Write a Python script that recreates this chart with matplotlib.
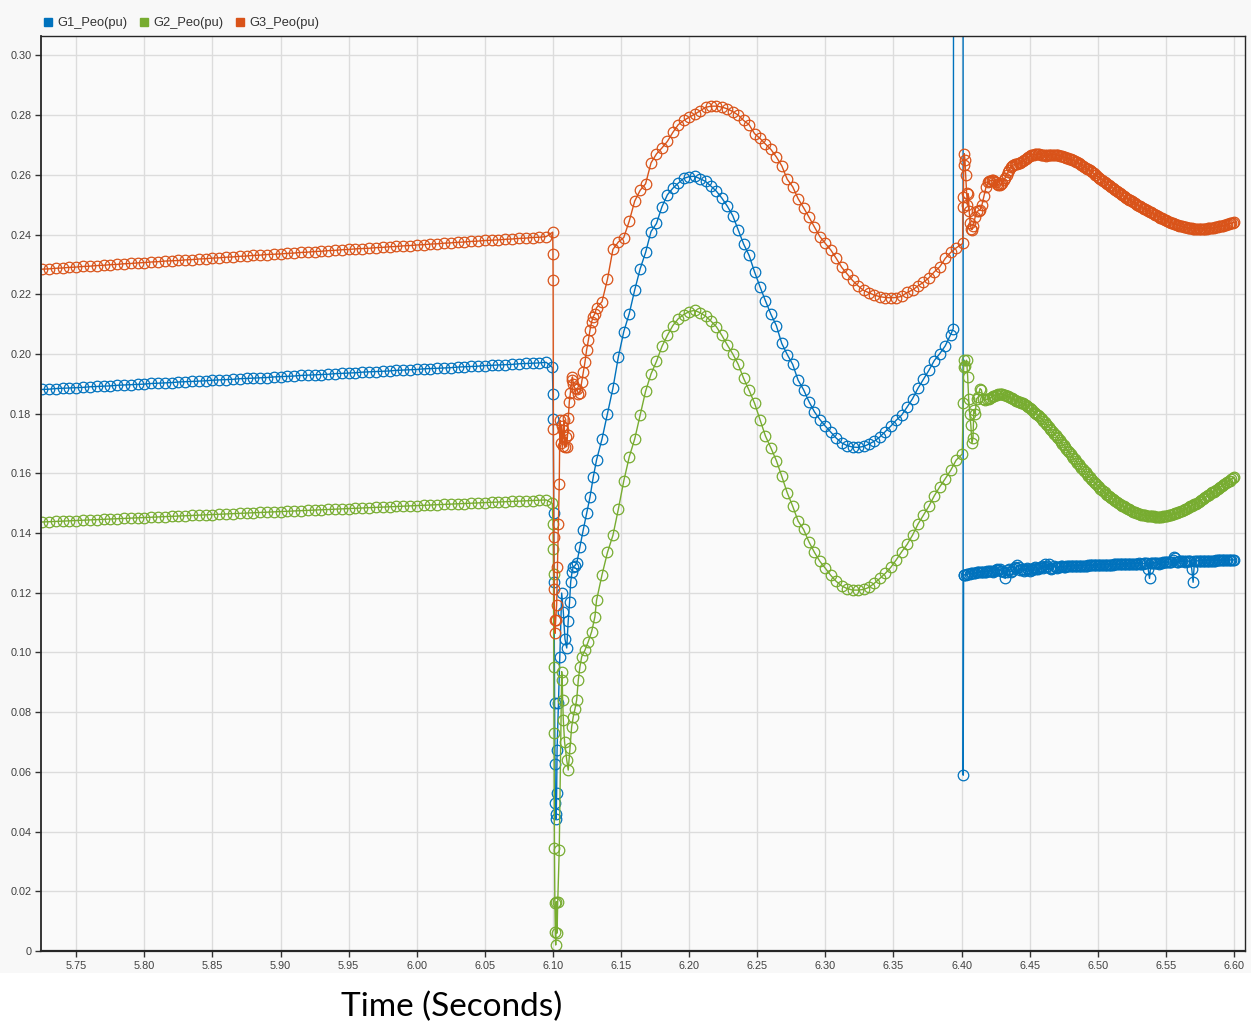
import numpy as np
import matplotlib
matplotlib.use("Agg")
import matplotlib.pyplot as plt
from matplotlib.lines import Line2D
from matplotlib.patches import Rectangle
from matplotlib.ticker import FuncFormatter

# ---------------- data (values in milli-pu) ----------------
series_names = ["G1_Peo(pu)", "G2_Peo(pu)", "G3_Peo(pu)"]

# pre-fault, t = 5.725 + 0.005*k
pre_t0, pre_dt = 5.725, 0.005
G1_pre = [188.1,188.2,188.4,188.5,188.6,188.7,188.8,189.0,189.1,189.2,
          189.3,189.5,189.6,189.7,189.8,189.9,190.1,190.2,190.3,190.4,
          190.6,190.7,190.8,190.9,191.0,191.2,191.3,191.4,191.5,191.7,
          191.8,191.9,192.0,192.1,192.3,192.4,192.5,192.6,192.8,192.9,
          193.0,193.1,193.2,193.4,193.5,193.6,193.7,193.9,194.0,194.1,
          194.2,194.3,194.5,194.6,194.7,194.8,195.0,195.1,195.2,195.3,
          195.4,195.6,195.7,195.8,195.9,196.1,196.2,196.3,196.4,196.5,
          196.7,196.8,196.9,197.0,197.2]
G2_pre = [143.7,143.8,143.9,144.0,144.1,144.2,144.3,144.4,144.5,144.6,
          144.7,144.8,144.9,145.0,145.1,145.2,145.3,145.4,145.5,145.6,
          145.7,145.8,145.9,146.0,146.1,146.2,146.3,146.4,146.5,146.6,
          146.7,146.8,146.9,147.0,147.1,147.2,147.3,147.4,147.5,147.6,
          147.7,147.8,147.9,148.0,148.1,148.2,148.3,148.4,148.5,148.6,
          148.7,148.8,148.9,149.0,149.1,149.2,149.3,149.4,149.5,149.6,
          149.7,149.8,149.9,150.0,150.1,150.2,150.3,150.4,150.5,150.6,
          150.7,150.8,150.9,151.0,151.1]
G3_pre = [228.4,228.5,228.7,228.8,229.0,229.1,229.3,229.4,229.6,229.7,
          229.9,230.0,230.2,230.3,230.5,230.6,230.8,230.9,231.1,231.2,
          231.3,231.5,231.6,231.8,231.9,232.1,232.2,232.4,232.5,232.7,
          232.8,233.0,233.1,233.3,233.4,233.5,233.7,233.8,234.0,234.1,
          234.3,234.4,234.6,234.7,234.9,235.0,235.2,235.3,235.4,235.6,
          235.7,235.9,236.0,236.2,236.3,236.5,236.6,236.8,236.9,237.1,
          237.2,237.4,237.5,237.7,237.8,238.0,238.1,238.2,238.4,238.5,
          238.7,238.8,239.0,239.1,239.3]

# fault transient (explicit times)
G1_fault_t = [6.0995,6.1000,6.1002,6.1005,6.1008,6.1012,6.1015,6.1018,6.1021,6.1024,
              6.1027,6.1030,6.1040,6.1050,6.1064,6.1076,6.1088,6.1101,6.1112,6.1122,
              6.1130,6.1140,6.1149,6.1160,6.1175,6.1198,6.1222,6.1247,6.1272,6.1296]
G1_fault_v = [195.5,186.7,178.1,146.7,123.6,83.0,62.6,49.7,44.2,46.0,
              52.9,67.3,83.0,98.6,119.9,113.6,104.5,101.5,110.6,117.0,
              123.6,127.0,128.7,129.0,130.0,135.4,141.0,146.6,152.1,158.8]
G2_fault_t = [6.0995,6.1000,6.1002,6.1004,6.1006,6.1008,6.1011,6.1014,6.1017,6.1020,
              6.1025,6.1030,6.1035,6.1046,6.1064,6.1068,6.1071,6.1076,6.1085,6.1101,
              6.1112,6.1125,6.1137,6.1149,6.1162,6.1174,6.1186,6.1198,6.1211,6.1235,
              6.1259,6.1284,6.1308]
G2_fault_v = [150.0,143.2,134.8,126.2,95.2,72.9,34.4,16.0,6.5,2.0,
              16.5,6.0,16.5,33.8,93.6,90.8,84.1,77.4,70.1,64.0,
              60.6,67.9,75.1,78.5,81.2,84.1,90.8,95.2,98.6,100.8,
              103.6,107.0,112.0]
G3_fault_t = [6.0998,6.1000,6.1001,6.1003,6.1006,6.1009,6.1012,6.1015,6.1020,6.1027,
              6.1033,6.1039,6.1046,6.1051,6.1058,6.1064,6.1070,6.1076,6.1082,6.1088,
              6.1095,6.1101,6.1107,6.1112,6.1120,6.1128,6.1137,6.1143,6.1150,6.1160,
              6.1174,6.1186,6.1198,6.1211,6.1222,6.1235,6.1247,6.1260,6.1272,6.1284,
              6.1296,6.1308]
G3_fault_v = [240.8,233.5,224.9,175.0,138.7,121.4,110.8,106.4,110.8,115.9,
              128.7,143.2,156.4,177.8,170.0,176.0,169.0,174.5,177.8,168.9,
              172.2,168.9,172.8,178.4,184.0,187.0,191.2,192.3,190.0,188.5,
              188.4,186.7,187.0,190.7,194.0,197.3,201.3,204.6,208.0,210.8,
              212.5,213.5]

# electromechanical swing, t = 6.132 + 0.004*k
sw_t0, sw_dt = 6.132, 0.004
G1_swing = [164.5,171.5,180.0,188.5,199.0,207.5,213.5,221.4,228.5,234.0,
            241.0,243.7,249.3,253.3,255.5,257.2,258.8,259.4,259.5,258.7,
            257.8,256.2,254.5,252.2,249.5,246.3,241.5,236.8,233.0,227.5,
            222.5,217.8,213.3,209.5,203.5,199.8,196.5,191.2,188.0,184.0,
            180.6,178.0,175.8,173.8,171.8,170.2,169.3,168.8,168.7,169.0,
            169.8,170.8,172.2,174.0,175.8,177.8,179.5,182.2,185.0,188.5,
            191.5,194.5,197.8,200.1,202.7,206.5]
G2_swing = [117.5,126.0,133.5,139.2,148.0,157.5,165.5,171.5,179.5,187.5,
            193.3,197.5,202.5,206.2,209.5,211.8,213.2,214.2,214.6,213.8,
            212.7,211.0,209.1,206.2,203.0,200.0,196.5,191.8,187.8,183.5,
            178.0,172.5,168.5,164.3,159.0,153.5,149.0,144.0,141.2,137.0,
            133.5,130.5,128.2,125.8,123.8,122.3,121.4,120.9,120.9,121.1,
            121.8,123.2,124.8,126.5,128.5,131.0,133.7,136.2,139.3,143.0,
            146.0,149.0,152.5,155.5,158.2,161.0]
G3_swing = [215.5,217.5,225.0,235.0,237.5,239.0,244.5,251.2,254.8,257.0,
            264.0,267.0,269.0,271.2,274.2,276.8,278.2,279.3,280.3,281.4,
            282.6,283.0,283.0,282.7,282.1,281.2,280.0,278.2,276.8,273.8,
            272.2,270.3,268.5,266.0,263.0,258.5,256.0,252.0,249.0,245.8,
            242.5,239.3,237.0,234.8,232.0,229.0,226.8,224.6,222.8,221.3,
            220.5,219.7,219.2,218.9,218.8,218.9,219.3,220.6,221.4,222.8,
            224.0,225.5,227.5,229.2,232.0,234.0]

# second event around 6.40 (explicit times); values above the axis run off the top
G1_event_t = [6.3939,6.3951,6.4010,6.4012,6.4015]
G1_event_v = [208.5,900.0,900.0,58.9,125.9]
G2_event_t = [6.3960,6.4005,6.4012,6.4015,6.4020,6.4028,6.4037,6.4045,6.4052,6.4060,
              6.4068,6.4076,6.4084,6.4090,6.4100,6.4110,6.4123,6.4135,6.4145,6.4160,
              6.4172,6.4185]
G2_event_v = [164.4,166.5,183.4,195.7,197.9,196.0,197.9,192.3,185.0,180.0,
              176.2,170.0,172.0,181.2,180.0,185.0,185.6,188.4,188.0,185.0,
              184.5,184.8]
G3_event_t = [6.3960,6.4008,6.4011,6.4013,6.4016,6.4020,6.4025,6.4030,6.4037,6.4043,
              6.4049,6.4056,6.4062,6.4070,6.4076,6.4086,6.4100,6.4115,6.4125,6.4135,
              6.4150,6.4165,6.4180,6.4196]
G3_event_v = [235.5,237.0,249.3,252.6,263.2,267.1,264.9,260.0,254.0,249.8,
              253.7,248.0,244.0,242.0,241.6,243.0,245.9,247.8,248.0,248.2,
              250.0,253.0,256.0,257.6]

# post-event, t = t0 + 0.001*k
G1_post_t0, G2_post_t0, G3_post_t0, post_dt = 6.402, 6.420, 6.420, 0.001
G1_post = [126.0,126.1,126.2,126.3,126.4,126.5,126.5,126.6,126.7,126.8,
           126.8,126.9,126.9,127.0,127.0,127.1,127.1,127.2,127.2,127.3,
           127.3,127.0,127.4,127.6,127.9,127.7,127.9,127.3,127.2,126.9,
           124.8,127.1,127.5,127.8,126.9,127.4,127.8,128.6,128.3,129.3,
           128.5,127.6,127.9,128.1,127.4,127.7,128.4,127.9,127.2,128.0,
           127.7,128.3,128.5,128.0,127.9,128.2,128.6,129.0,128.4,129.8,
           128.6,129.0,129.8,128.3,127.8,128.4,128.9,128.6,128.3,128.7,
           128.5,128.9,129.0,128.6,128.7,128.8,129.0,128.8,128.9,128.9,
           129.0,129.0,129.0,129.0,129.1,129.0,129.1,129.1,129.1,129.1,
           129.1,129.2,129.2,129.2,129.2,129.2,129.2,129.2,129.3,129.3,
           129.3,129.3,129.3,129.3,129.4,129.4,129.4,129.4,129.4,129.4,
           129.5,129.5,129.5,129.5,129.5,129.5,129.6,129.6,129.6,129.6,
           129.6,129.6,129.7,129.7,129.7,129.7,129.7,129.8,130.1,129.8,
           129.8,129.8,129.9,129.9,130.0,128.0,124.8,129.9,129.9,130.0,
           130.0,130.0,130.1,129.5,130.1,130.1,130.2,130.2,130.2,130.2,
           130.3,130.3,130.4,131.0,132.0,131.5,130.4,130.4,130.5,130.5,
           130.5,130.6,130.2,130.6,130.6,130.6,130.6,128.0,123.5,130.6,
           130.7,130.7,130.7,130.7,130.7,130.7,130.7,130.8,130.8,130.8,
           130.8,130.8,130.8,130.8,130.8,130.9,130.9,130.9,130.9,130.9,
           130.9,130.9,130.9,130.9,130.9,131.0,131.0,131.0,131.0]
G2_post = [185.0,185.3,185.5,185.8,186.0,186.2,186.4,186.6,186.7,186.7,
           186.6,186.4,186.2,186.0,185.8,185.6,185.3,185.1,184.8,184.6,
           184.3,184.2,184.0,183.8,183.6,183.4,183.1,182.8,182.5,182.2,
           181.8,181.5,181.1,180.7,180.3,179.9,179.5,179.1,178.6,178.1,
           177.6,177.1,176.6,176.1,175.5,175.0,174.4,173.9,173.3,172.8,
           172.2,171.7,171.1,170.5,169.9,169.4,168.8,168.2,167.6,167.0,
           166.4,165.8,165.2,164.7,164.1,163.6,163.0,162.5,161.9,161.4,
           160.8,160.3,159.7,159.2,158.7,158.2,157.7,157.2,156.7,156.3,
           155.8,155.4,154.9,154.5,154.0,153.6,153.2,152.8,152.4,152.1,
           151.7,151.4,151.0,150.7,150.3,150.0,149.7,149.4,149.1,148.9,
           148.6,148.4,148.1,147.9,147.6,147.4,147.2,147.0,146.8,146.7,
           146.5,146.4,146.2,146.1,146.0,145.9,145.8,145.8,145.7,145.7,
           145.6,145.6,145.5,145.5,145.5,145.5,145.5,145.5,145.6,145.6,
           145.7,145.8,145.9,146.0,146.1,146.3,146.4,146.6,146.7,146.9,
           147.1,147.3,147.5,147.7,147.9,148.2,148.4,148.7,148.9,149.2,
           149.4,149.7,149.9,150.2,150.5,150.8,151.1,151.4,151.7,152.0,
           152.3,152.6,152.9,153.3,153.6,153.9,154.2,154.5,154.8,155.1,
           155.4,155.7,156.0,156.3,156.6,157.0,157.3,157.6,158.0,158.3,
           158.7]
G3_post = [257.8,258.0,258.2,258.1,258.0,257.5,257.0,256.7,256.5,256.8,
           257.2,258.1,259.0,259.9,260.8,261.7,262.5,262.9,263.3,263.5,
           263.6,263.7,263.8,264.0,264.2,264.5,264.8,265.2,265.5,265.9,
           266.2,266.5,266.7,266.8,266.9,267.0,267.0,266.9,266.8,266.7,
           266.5,266.5,266.4,266.5,266.5,266.6,266.7,266.7,266.7,266.7,
           266.6,266.5,266.4,266.3,266.2,266.1,265.9,265.8,265.6,265.4,
           265.2,265.0,264.8,264.6,264.4,264.2,263.9,263.6,263.3,263.0,
           262.7,262.4,262.1,261.8,261.5,261.2,260.8,260.5,260.1,259.8,
           259.4,259.1,258.7,258.4,258.0,257.7,257.3,257.0,256.6,256.3,
           255.9,255.6,255.2,254.9,254.5,254.2,253.9,253.6,253.2,252.9,
           252.6,252.3,252.0,251.7,251.4,251.1,250.8,250.5,250.2,250.0,
           249.7,249.5,249.2,249.0,248.7,248.5,248.2,248.0,247.7,247.5,
           247.2,247.0,246.7,246.5,246.2,246.0,245.7,245.5,245.2,245.0,
           244.7,244.5,244.3,244.1,243.9,243.7,243.5,243.4,243.2,243.1,
           242.9,242.8,242.7,242.6,242.5,242.4,242.3,242.2,242.1,242.1,
           242.0,242.0,241.9,241.9,241.9,241.9,241.9,241.9,241.9,242.0,
           242.0,242.1,242.1,242.2,242.2,242.3,242.4,242.5,242.6,242.7,
           242.8,242.9,243.0,243.1,243.2,243.4,243.5,243.7,243.8,243.9,
           244.1]

x_ticks = [5.75,5.80,5.85,5.90,5.95,6.00,6.05,6.10,6.15,6.20,6.25,6.30,6.35,6.40,6.45,6.50,6.55,6.60]
y_ticks = [0,0.02,0.04,0.06,0.08,0.10,0.12,0.14,0.16,0.18,0.20,0.22,0.24,0.26,0.28,0.30]
colors = ["#0072BD", "#77AC30", "#D95319"]


def uniform(t0, dt, vals):
    return list(t0 + dt * np.arange(len(vals)))


def build(pre, ft, fv, sw, et, ev, pt0, post):
    t = uniform(pre_t0, pre_dt, pre) + list(ft) + uniform(sw_t0, sw_dt, sw) + list(et) + uniform(pt0, post_dt, post)
    v = list(pre) + list(fv) + list(sw) + list(ev) + list(post)
    return np.array(t), np.array(v) / 1000.0


data = [
    build(G1_pre, G1_fault_t, G1_fault_v, G1_swing, G1_event_t, G1_event_v, G1_post_t0, G1_post),
    build(G2_pre, G2_fault_t, G2_fault_v, G2_swing, G2_event_t, G2_event_v, G2_post_t0, G2_post),
    build(G3_pre, G3_fault_t, G3_fault_v, G3_swing, G3_event_t, G3_event_v, G3_post_t0, G3_post),
]

# ---------------- figure ----------------
W, H = 1251, 1036
fig = plt.figure(figsize=(W / 100, H / 100), dpi=100, facecolor="white")
fig.patches.append(Rectangle((0, 1 - 973 / H), 1, 973 / H, transform=fig.transFigure,
                             facecolor="#f8f8f8", edgecolor="none", zorder=-10))

ax = fig.add_axes([41 / W, 1 - 951 / H, (1245 - 41) / W, (951 - 36) / H])
ax.set_facecolor("#fafafa")

for (t, v), c in zip(data, colors):
    ax.plot(t, v, "-", color=c, lw=1.0, marker="o", markersize=7.6,
            markerfacecolor="none", markeredgecolor=c, markeredgewidth=0.9)

ax.set_xlim(5.7241, 6.6081)
ax.set_ylim(0, 0.3065)
ax.set_xticks(x_ticks)
ax.set_yticks(y_ticks)
ax.xaxis.set_major_formatter(FuncFormatter(lambda x, p: f"{x:.2f}"))
ax.yaxis.set_major_formatter(FuncFormatter(lambda y, p: "0" if abs(y) < 1e-9 else f"{y:.2f}"))
ax.grid(True, color="#dcdcdc", lw=1.0)
ax.set_axisbelow(True)
for s in ax.spines.values():
    s.set_color("#262626")
    s.set_linewidth(1.0)
ax.spines["bottom"].set_linewidth(1.6)
ax.spines["left"].set_linewidth(1.3)
ax.tick_params(direction="out", length=4, width=1, color="#333333",
               labelsize=7.8, labelcolor="#404040", pad=3)
for lab in ax.get_xticklabels() + ax.get_yticklabels():
    lab.set_fontfamily("Liberation Sans")

# legend
handles = [Line2D([], [], linestyle="none", marker="s", markersize=6.2,
                  markerfacecolor=c, markeredgecolor=c) for c in colors]
leg = fig.legend(handles, series_names, loc="upper left", bbox_to_anchor=(38 / W, 1 - 12 / H),
                 ncol=3, frameon=False, handlelength=0.8, handletextpad=0.3,
                 columnspacing=0.9, borderaxespad=0,
                 prop={"family": "Liberation Sans", "size": 9.3})
for txt in leg.get_texts():
    txt.set_color("#333333")

fig.text(452 / W, 1 - 1007 / H, "Time (Seconds)", ha="center", va="center",
         fontsize=24, family=["Lato", "DejaVu Sans"], color="black")

fig.savefig("out.png", dpi=100, facecolor=fig.get_facecolor())
